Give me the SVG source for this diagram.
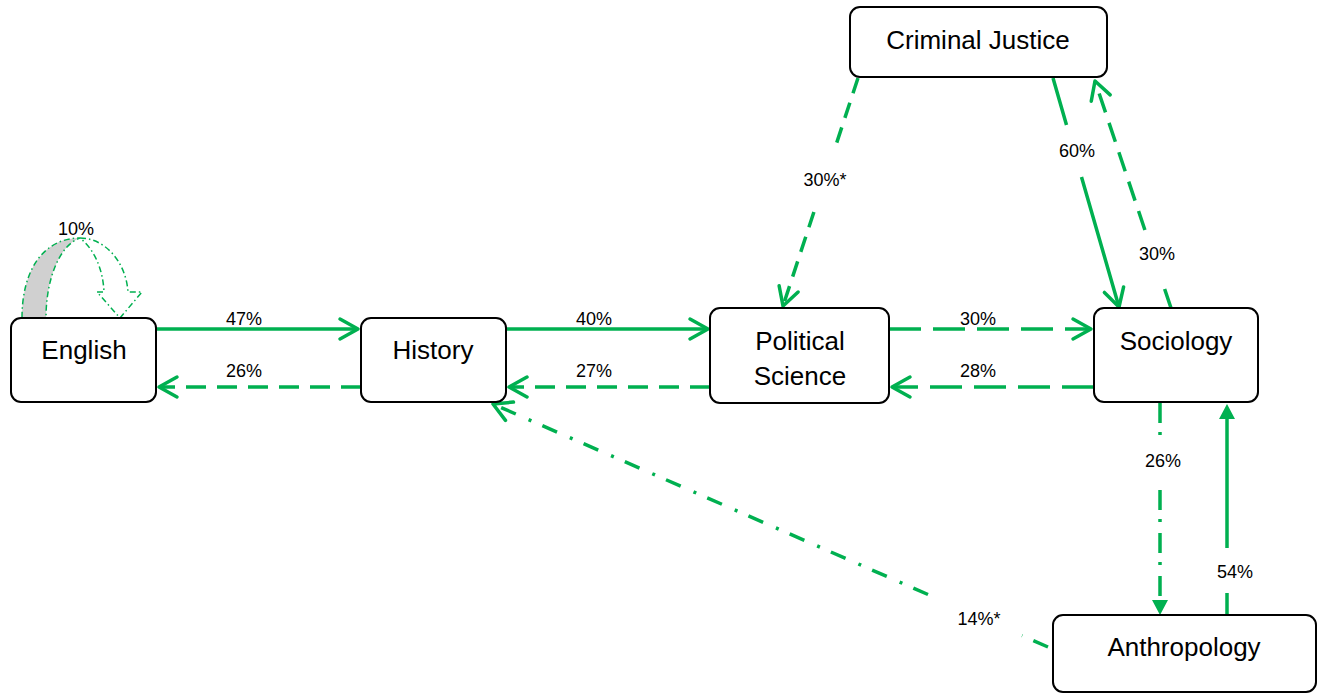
<svg xmlns="http://www.w3.org/2000/svg" width="1318" height="694" viewBox="0 0 1318 694">
<style>
.node rect{fill:#fff;stroke:#000;stroke-width:2}
.node text{font-family:"Liberation Sans",Arial,sans-serif;font-size:26px;fill:#000;text-anchor:middle}
.lbl{font-family:"Liberation Sans",Arial,sans-serif;font-size:18px;fill:#000;text-anchor:middle}
.c{fill:none;stroke:#00B050;stroke-width:3.5}
.solid{}
.dash{stroke-dasharray:20 11}
.ldash{stroke-dasharray:32 12}
.mdash{stroke-dasharray:16 10}
.dd{stroke-dasharray:20 9 3 11}
.dd2{stroke-dasharray:16 12 3 14}
.chev{marker-end:url(#chev)}
.tri{marker-end:url(#tri)}
.loop{stroke:#00B050;stroke-width:1.5;stroke-dasharray:6 3 1.5 3}
</style>
<defs>
<marker id="chev" viewBox="-22 -13 26 26" refX="0" refY="0" markerWidth="26" markerHeight="26" orient="auto" markerUnits="userSpaceOnUse">
<path d="M-18,-10 L0,0 L-18,10" fill="none" stroke="#00B050" stroke-width="3.5" stroke-dasharray="none" stroke-linecap="round" stroke-linejoin="round"/>
</marker>
<marker id="tri" viewBox="-2 -10 20 20" refX="0" refY="0" markerWidth="20" markerHeight="20" orient="auto" markerUnits="userSpaceOnUse">
<path d="M0,-8 L15,0 L0,8 Z" fill="#00B050"/>
</marker>
</defs>
<g id="connectors">
<!-- English self loop -->
<g id="loop-english">
<path class="loop" d="M22,318 C22,268 45,238 80,238 C60,245 46,278 46,318 Z" fill="#D0D0D0"/>
<path class="loop" d="M80,238 C105,238 126,262 128,292 L142,292 L120,318 L97,292 L104,292 C103,270 95,250 80,238" fill="#fff"/>
</g>
<path class="c solid chev" d="M156,329 L358,329"/>
<path class="c dash chev" d="M361,387 L159,387"/>
<path class="c solid chev" d="M506,329 L708,329"/>
<path class="c dash chev" d="M710,387 L509,387"/>
<path class="c ldash chev" d="M889,329 L1091,329"/>
<path class="c ldash chev" d="M1094,387 L892,387"/>
<path class="c mdash chev" d="M858,78 L835.3,147 M813.9,212 L783,306"/>
<path class="c solid chev" d="M1053,78 L1066.5,125 M1081.5,177 L1119,307"/>
<path class="c dash chev" d="M1171,308 L1161.6,280 M1144.9,230 L1095,81"/>
<path class="c dd tri" d="M1160,403 L1160,436 M1160,490 L1160,600"/>
<path class="c solid tri" d="M1227,615 L1227,593 M1227,548 L1227,419"/>
<path class="c dd2 chev" d="M1048,647 L1022,635.6 M928,594.5 L493,404"/>
</g>
<g id="labels">
<text class="lbl" x="76" y="235">10%</text>
<text class="lbl" x="244" y="325">47%</text>
<text class="lbl" x="244" y="377">26%</text>
<text class="lbl" x="594" y="325">40%</text>
<text class="lbl" x="594" y="377">27%</text>
<text class="lbl" x="978" y="325">30%</text>
<text class="lbl" x="978" y="377">28%</text>
<text class="lbl" x="825" y="186">30%*</text>
<text class="lbl" x="1077" y="157">60%</text>
<text class="lbl" x="1157" y="260">30%</text>
<text class="lbl" x="1163" y="467">26%</text>
<text class="lbl" x="1235" y="578">54%</text>
<text class="lbl" x="979" y="625">14%*</text>
</g>
<g id="english" class="node"><rect x="11" y="318" width="145" height="84" rx="10"/><text x="84" y="359">English</text></g>
<g id="history" class="node"><rect x="361" y="318" width="145" height="84" rx="10"/><text x="433" y="359">History</text></g>
<g id="political-science" class="node"><rect x="710" y="308" width="179" height="95" rx="10"/><text x="800" y="350">Political</text><text x="800" y="385">Science</text></g>
<g id="sociology" class="node"><rect x="1094" y="308" width="164" height="94" rx="10"/><text x="1176" y="350">Sociology</text></g>
<g id="criminal-justice" class="node"><rect x="850" y="7" width="257" height="70" rx="10"/><text x="978" y="49">Criminal Justice</text></g>
<g id="anthropology" class="node"><rect x="1053" y="615" width="263" height="77" rx="10"/><text x="1184" y="656">Anthropology</text></g>
</svg>
